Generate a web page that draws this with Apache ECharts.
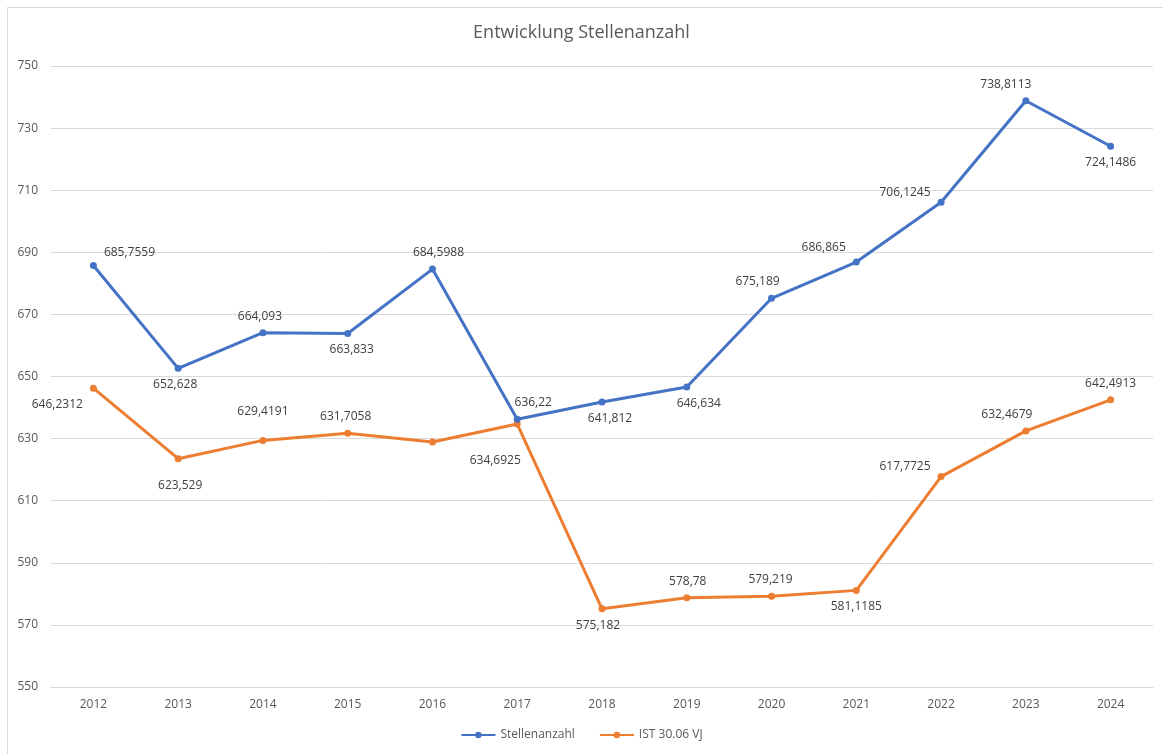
<!DOCTYPE html>
<html>
<head>
<meta charset="utf-8">
<style>html,body{margin:0;padding:0;background:#fff;}#c{width:1163px;height:754px;}</style>
<script src="https://cdn.jsdelivr.net/npm/echarts@6/dist/echarts.min.js"></script>
</head>
<body>
<div id="c"></div>
<script>
const years = ['2012','2013','2014','2015','2016','2017','2018','2019','2020','2021','2022','2023','2024'];
const stellen = [685.7559, 652.628, 664.093, 663.833, 684.5988, 636.22, 641.812, 646.634, 675.189, 686.865, 706.1245, 738.8113, 724.1486];
const ist = [646.2312, 623.529, 629.4191, 631.7058, 628.9, 634.6925, 575.182, 578.78, 579.219, 581.1185, 617.7725, 632.4679, 642.4913];
const istLabelShown = [true, true, true, true, false, true, true, true, true, true, true, true, true];

// label placement [position, dx, dy]
const stellenLbl = [
  ['right', 0, -13], ['bottom', -3, 0], ['top', -3, 0], ['bottom', 4, 0], ['top', 6, 0],
  ['top', 16, 0], ['bottom', 8, 0], ['bottom', 12, 0], ['top', -14, 0], ['left', 0, -14],
  ['left', 0, -10], ['top', -20, 0], ['bottom', 0, 0]
];
const istLbl = [
  ['left', 0, 16], ['bottom', 2, 10], ['top', 0, -12], ['top', -2, 0], ['top', 0, 0],
  ['bottom', -22, 20], ['bottom', -4, 0], ['top', 1, 0], ['top', -1, 0], ['bottom', 0, 0],
  ['left', 0, -10], ['top', -19, 0], ['top', 0, 0]
];

function fmt(v){ return String(v).replace('.', ','); }

function buildData(vals, lbls, shown){
  return vals.map((v,i)=>({
    value: v,
    label: {
      show: shown ? shown[i] : true,
      position: lbls[i][0],
      offset: [lbls[i][1], lbls[i][2]],
      distance: 7
    }
  }));
}

const chart = echarts.init(document.getElementById('c'), null, {renderer:'canvas'});
const font = 'Open Sans, Liberation Sans, sans-serif';
chart.setOption({
  backgroundColor: '#ffffff',
  animation: false,
  textStyle: {fontFamily: font},
  title: {
    text: 'Entwicklung Stellenanzahl',
    left: 'center',
    top: 19,
    textStyle: {fontSize: 18, fontWeight: 'normal', color: '#595959', fontFamily: font}
  },
  graphic: [{
    type: 'rect', shape: {x: 7.5, y: 7.5, width: 1160, height: 760},
    style: {fill: 'none', stroke: '#d9d9d9', lineWidth: 1}, silent: true
  }],
  legend: {
    bottom: 8,
    left: 'center',
    itemWidth: 34,
    itemHeight: 8,
    itemGap: 24,
    textStyle: {fontSize: 12, color: '#595959', fontFamily: font},
    data: ['Stellenanzahl', 'IST 30.06 VJ']
  },
  grid: {left: 51, top: 66, width: 1102, height: 621, containLabel: false},
  xAxis: {
    type: 'category',
    data: years,
    boundaryGap: true,
    axisLine: {show: true, lineStyle: {color: '#d9d9d9', width: 1}},
    axisTick: {show: false},
    axisLabel: {color: '#595959', fontSize: 12, margin: 12, fontFamily: font}
  },
  yAxis: {
    type: 'value',
    min: 550, max: 750, interval: 20,
    axisLine: {show: false},
    axisTick: {show: false},
    splitLine: {lineStyle: {color: '#d9d9d9', width: 1}},
    axisLabel: {color: '#595959', fontSize: 12, margin: 13, fontFamily: font}
  },
  series: [
    {
      name: 'Stellenanzahl', type: 'line',
      data: buildData(stellen, stellenLbl, null),
      color: '#4472C4',
      lineStyle: {width: 3, color: '#4472C4'},
      symbol: 'circle', symbolSize: 7,
      itemStyle: {color: '#4472C4'},
      label: {color: '#404040', fontSize: 12, fontFamily: font, formatter: p => fmt(p.value)},
      z: 3
    },
    {
      name: 'IST 30.06 VJ', type: 'line',
      data: buildData(ist, istLbl, istLabelShown),
      color: '#ED7D31',
      lineStyle: {width: 3, color: '#ED7D31'},
      symbol: 'circle', symbolSize: 7,
      itemStyle: {color: '#ED7D31'},
      label: {color: '#404040', fontSize: 12, fontFamily: font, formatter: p => fmt(p.value)},
      z: 2
    }
  ]
});
</script>
</body>
</html>
